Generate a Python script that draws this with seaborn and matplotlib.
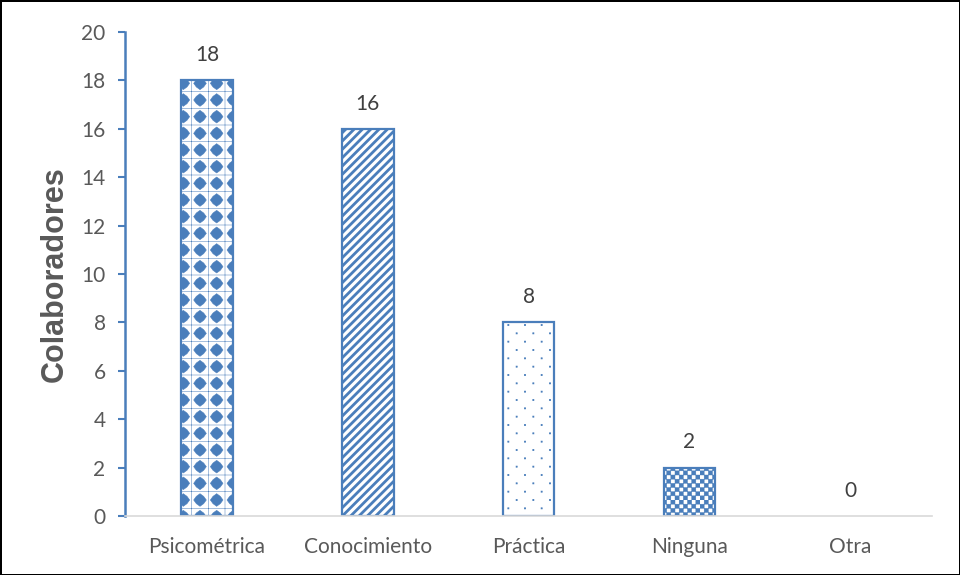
import numpy as np
import pandas as pd
import matplotlib
matplotlib.use("Agg")
import matplotlib.pyplot as plt
import matplotlib.hatch as mhatch
from matplotlib.path import Path
import seaborn as sns

# --- data -------------------------------------------------------------
categorias = ["Psicométrica", "Conocimiento", "Práctica", "Ninguna", "Otra"]
colaboradores = [18, 16, 8, 2, 0]
yticks = [0, 2, 4, 6, 8, 10, 12, 14, 16, 18, 20]

AZUL = "#4a7ebb"
GRIS = "#595959"


# --- extra hatch patterns: diamond grid, checkerboard, sparse dots ------
class DiamondGrid(mhatch.HatchPatternBase):
    def __init__(self, hatch, density):
        self.n = hatch.count("d") * density
        self.num_vertices = 0 if self.n == 0 else (self.n + 1) ** 2 * 9

    def set_vertices_and_codes(self, vertices, codes):
        n = self.n
        r = 0.38 / n
        k = 0.58
        shape = np.array([[0, -1], [k, -k], [1, 0], [k, k], [0, 1],
                          [-k, k], [-1, 0], [-k, -k], [0, -1]], float) * r
        i = 0
        for row in range(n + 1):
            for col in range(n + 1):
                vertices[i:i + 9] = shape + [col / n, row / n]
                codes[i:i + 9] = [Path.MOVETO] + [Path.LINETO] * 7 + [Path.CLOSEPOLY]
                i += 9


class Checker(mhatch.HatchPatternBase):
    def __init__(self, hatch, density):
        self.m = hatch.count("c") * density * 2
        cells = [(a, b) for a in range(self.m) for b in range(self.m) if (a + b) % 2 == 0]
        self.cells = cells
        self.num_vertices = len(cells) * 5 if self.m else 0

    def set_vertices_and_codes(self, vertices, codes):
        s = 1.0 / self.m
        sq = np.array([[0, 0], [1, 0], [1, 1], [0, 1], [0, 0]], float) * s
        for k, (a, b) in enumerate(self.cells):
            vertices[k * 5:k * 5 + 5] = sq + [a * s, b * s]
            codes[k * 5:k * 5 + 5] = [Path.MOVETO, Path.LINETO, Path.LINETO,
                                      Path.LINETO, Path.CLOSEPOLY]


class SparseDots(mhatch.HatchPatternBase):
    def __init__(self, hatch, density):
        self.n = hatch.count("p") * density
        pts = []
        if self.n:
            n = self.n
            for row in range(2 * n + 1):
                y = row / (2 * n)
                if row % 2 == 0:
                    xs = [c / n for c in range(n + 1)]
                else:
                    xs = [(c + 0.5) / n for c in range(n)]
                pts += [(x, y) for x in xs]
        self.pts = pts
        self.num_vertices = len(pts) * 5

    def set_vertices_and_codes(self, vertices, codes):
        r = 0.005
        sq = np.array([[-1, -1], [1, -1], [1, 1], [-1, 1], [-1, -1]], float) * r
        for k, p in enumerate(self.pts):
            vertices[k * 5:k * 5 + 5] = sq + p
            codes[k * 5:k * 5 + 5] = [Path.MOVETO, Path.LINETO, Path.LINETO,
                                      Path.LINETO, Path.CLOSEPOLY]


mhatch._hatch_types.extend([DiamondGrid, Checker, SparseDots])
mhatch._validate_hatch_pattern = lambda hatch: None

# --- figure -------------------------------------------------------------
sns.set_style("white")
plt.rcParams["font.family"] = ["Lato", "DejaVu Sans"]
plt.rcParams["hatch.color"] = AZUL

fig = plt.figure(figsize=(9.6, 5.75), dpi=100, edgecolor="black", linewidth=2.0)
ax = fig.add_axes([0.1302, 0.1026, 0.8408, 0.8417])

df = pd.DataFrame({"categoria": categorias, "colaboradores": colaboradores})
sns.barplot(data=df, x="categoria", y="colaboradores", color="white",
            edgecolor=AZUL, linewidth=1.6, width=0.32, saturation=1, ax=ax)

hatches = ["d+", "////", "p", "cc", ""]
hatch_lw = [0.35, 2.0, 0.6, 0.3, 1.0]
for bar, h, lw, v in zip(ax.patches, hatches, hatch_lw, colaboradores):
    bar.set_facecolor("white")
    bar.set_hatch(h)
    if hasattr(bar, "set_hatch_linewidth"):
        bar.set_hatch_linewidth(lw)
    if v == 0:
        bar.set_linewidth(0)

ax.bar_label(ax.containers[0], labels=[str(v) for v in colaboradores],
             padding=11, fontsize=15, color="#404040")

ax.set_ylim(0, 20)
ax.set_xlim(-0.51, 4.51)
ax.set_yticks(yticks)
ax.tick_params(axis="y", left=True, direction="out", length=5, width=1.5,
               color=AZUL, labelsize=15, labelcolor=GRIS, pad=9)
ax.tick_params(axis="x", bottom=False, length=0, labelsize=15,
               labelcolor=GRIS, pad=15)

for side in ["top", "right"]:
    ax.spines[side].set_visible(False)
ax.spines["left"].set_color(AZUL)
ax.spines["left"].set_linewidth(1.8)
ax.spines["bottom"].set_color("#d9d9d9")
ax.spines["bottom"].set_linewidth(1.2)

ax.set_xlabel("")
ax.set_ylabel("Colaboradores", fontsize=22, fontweight="bold", color=GRIS,
              family=["Liberation Sans", "DejaVu Sans"], labelpad=8)

fig.savefig("out.png", dpi=100)
